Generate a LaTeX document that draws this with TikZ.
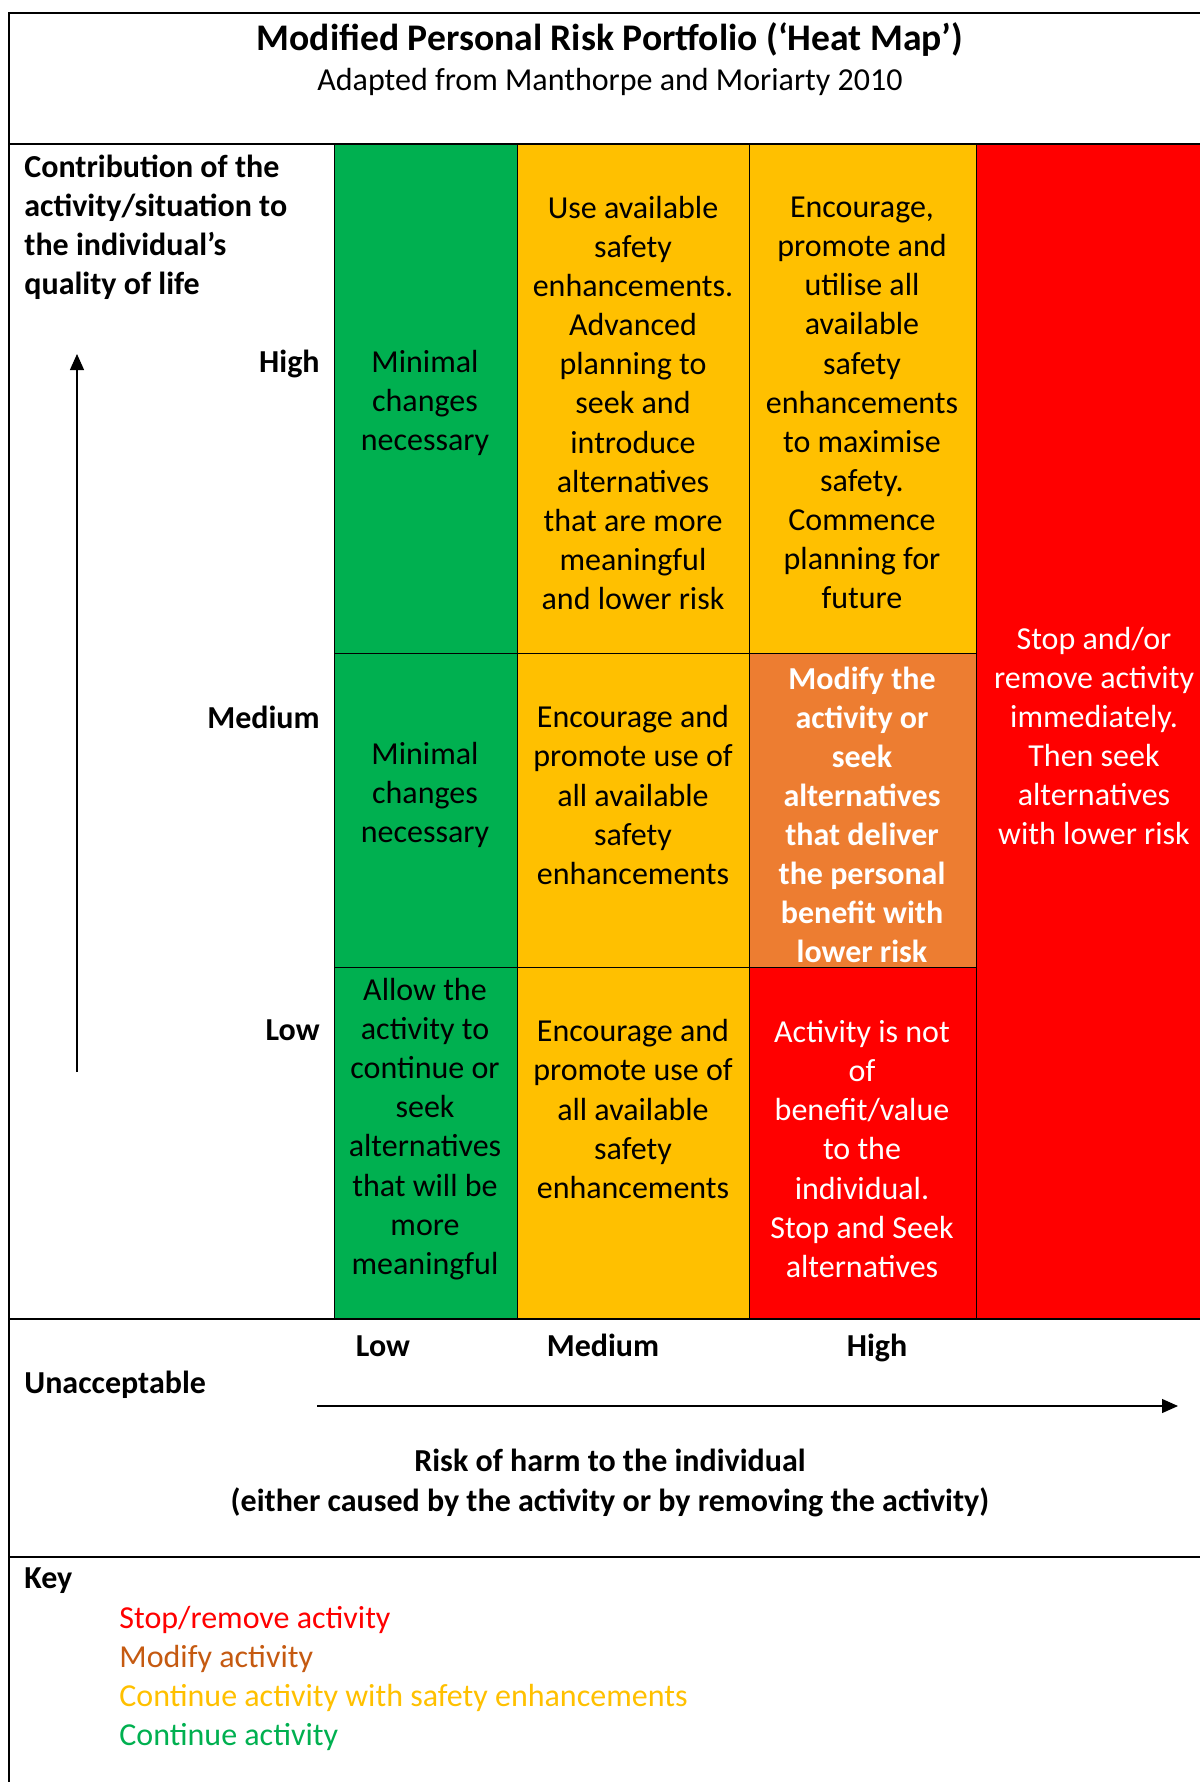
\documentclass[tikz,border=0pt]{standalone}
\usepackage{fontspec}
\setmainfont{Carlito}
\usetikzlibrary{arrows.meta}
\definecolor{hmgreen}{HTML}{00B050}
\definecolor{hmyellow}{HTML}{FFC000}
\definecolor{hmorange}{HTML}{ED7D31}
\definecolor{hmred}{HTML}{FF0000}
\definecolor{hmbrown}{HTML}{C55A11}
\tikzset{
  celltext/.style={align=center,inner sep=0pt,yshift=-1.5pt,font=\fontsize{16}{19.55}\selectfont},
  boldtext/.style={inner sep=0pt,yshift=-1.5pt,font=\fontsize{16}{19.55}\selectfont\bfseries},
  keytext/.style={inner sep=0pt,yshift=-1.5pt,anchor=west,font=\fontsize{16}{19.55}\selectfont},
  frame/.style={line width=0.8pt},
  cellbox/.style={draw=black,line width=0.5pt},
  axis/.style={line width=0.6pt,-{Triangle[length=8pt,width=7pt]}}
}
\begin{document}
\begin{tikzpicture}[x=0.5pt,y=-0.5pt]
\useasboundingbox (0,0) rectangle (1200,1782);
% cells
\fill[hmgreen] (334,144) rectangle (517,1319);
\fill[hmyellow] (517,144) rectangle (749,967);
\fill[hmyellow] (517,967) rectangle (749,1319);
\fill[hmyellow] (749,144) rectangle (976,653);
\fill[hmorange] (749,653) rectangle (976,967);
\fill[hmred] (749,967) rectangle (976,1319);
\fill[hmred] (976,144) rectangle (1200,1319);
\draw[cellbox] (334,144) -- (334,1319);
\draw[cellbox] (517,144) -- (517,1319);
\draw[cellbox] (749,144) -- (749,1319);
\draw[cellbox] (976,144) -- (976,1319);
\draw[cellbox] (334,653) -- (976,653);
\draw[cellbox] (334,967) -- (976,967);
% frame
\draw[frame] (9,1782) -- (9,13) -- (1200,13);
\draw[frame] (9,144) -- (1200,144);
\draw[frame] (9,1319) -- (1200,1319);
\draw[frame] (9,1557) -- (1200,1557);
% title
\node[inner sep=0pt,font=\fontsize{18.8}{22}\selectfont\bfseries] (title) at (610,40) {Modified Personal Risk Portfolio (‘Heat Map’)};
\node[inner sep=0pt,font=\fontsize{16}{19.55}\selectfont] (subtitle) at (610,82) {Adapted from Manthorpe and Moriarty 2010};
% left labels
\node[boldtext,align=left,anchor=west] (contrib) at (24,224) {Contribution of the\\activity/situation to\\the individual’s\\quality of life};
\node[boldtext,anchor=east] (yhigh) at (320,361) {High};
\node[boldtext,anchor=east] (ymed) at (320,714) {Medium};
\node[boldtext,anchor=east] (ylow) at (320,1027) {Low};
\coordinate (yaxs) at (77,1072);
\coordinate (yaxe) at (77,354);
\draw[axis] (yaxs) -- (yaxe);
% cell texts
\node[celltext] (g1) at (425,400) {Minimal\\changes\\necessary};
\node[celltext] (y1) at (633,400) {Use available\\safety\\enhancements.\\Advanced\\planning to\\seek and\\introduce\\alternatives\\that are more\\meaningful\\and lower risk};
\node[celltext] (y2) at (862,400) {Encourage,\\promote and\\utilise all\\available\\safety\\enhancements\\to maximise\\safety.\\Commence\\planning for\\future};
\node[celltext,text=white] (r1) at (1094,733) {Stop and/or\\remove activity\\immediately.\\Then seek\\alternatives\\with lower risk};
\node[celltext] (g2) at (425,792) {Minimal\\changes\\necessary};
\node[celltext] (y3) at (633,792) {Encourage and\\promote use of\\all available\\safety\\enhancements};
\node[celltext,text=white,font=\fontsize{16}{19.55}\selectfont\bfseries] (o1) at (862,812) {Modify the\\activity or\\seek\\alternatives\\that deliver\\the personal\\benefit with\\lower risk};
\node[celltext] (g3) at (425,1126) {Allow the\\activity to\\continue or\\seek\\alternatives\\that will be\\more\\meaningful};
\node[celltext] (y4) at (633,1106) {Encourage and\\promote use of\\all available\\safety\\enhancements};
\node[celltext,text=white] (r2) at (862,1146) {Activity is not\\of\\benefit/value\\to the\\individual.\\Stop and Seek\\alternatives};
% bottom axis
\node[boldtext,anchor=base] (xlow) at (383,1353) {Low};
\node[boldtext,anchor=base] (xmed) at (603,1353) {Medium};
\node[boldtext,anchor=base] (xhigh) at (877,1353) {High};
\node[boldtext,anchor=west] (unacc) at (24,1382) {Unacceptable};
\coordinate (xaxs) at (317,1406);
\coordinate (xaxe) at (1178,1406);
\draw[axis] (xaxs) -- (xaxe);
\node[boldtext,align=center] (risk) at (610,1480) {Risk of harm to the individual\\(either caused by the activity or by removing the activity)};
% key
\node[boldtext,anchor=west] (key) at (24,1578) {Key};
\node[keytext,text=hmred] (k1) at (119,1617) {Stop/remove activity};
\node[keytext,text=hmbrown] (k2) at (119,1656) {Modify activity};
\node[keytext,text=hmyellow] (k3) at (119,1695) {Continue activity with safety enhancements};
\node[keytext,text=hmgreen] (k4) at (119,1734) {Continue activity};
\end{tikzpicture}
\end{document}
